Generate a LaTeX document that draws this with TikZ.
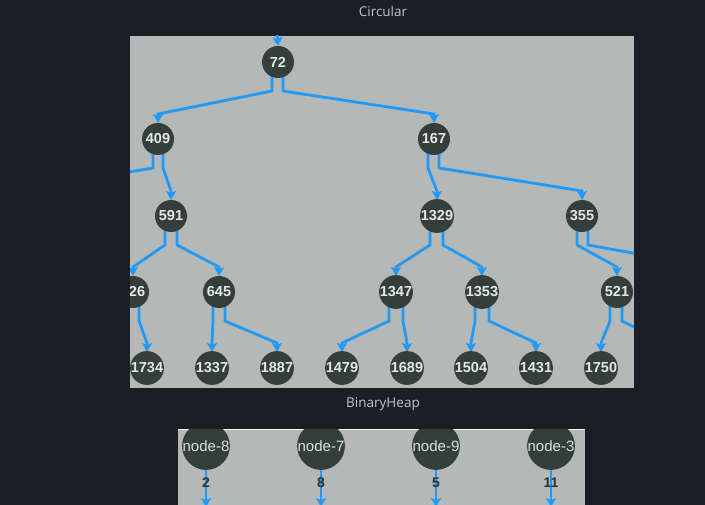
\documentclass[tikz,border=0pt]{standalone}
\usepackage{fontspec}
\setmainfont{Liberation Sans}
\newfontfamily\titlefont{Open Sans}
\usetikzlibrary{calc,arrows.meta}
\definecolor{bgdark}{HTML}{1B1E25}
\definecolor{panelgray}{HTML}{B4B9B8}
\definecolor{nodefill}{HTML}{343F3C}
\definecolor{edgeblue}{HTML}{2299F5}
\definecolor{nodetext}{HTML}{E4E8E8}
\definecolor{titlegray}{HTML}{C3C7CC}
\definecolor{labeldark}{HTML}{2A3034}
\tikzset{
  x=1pt, y=-1pt,
  tnode/.style={circle, fill=nodefill, minimum size=32pt, inner sep=0pt,
    text=nodetext, font=\bfseries\fontsize{14.5}{14.5}\selectfont},
  hnode/.style={circle, fill=nodefill, minimum size=32pt, inner sep=0pt,
    text=nodetext!80!panelgray, font=\fontsize{15}{15}\selectfont},
  edgeline/.style={draw=edgeblue, line width=2.8pt,
    -{Stealth[length=9pt,width=10pt,inset=2pt]}},
  ttl/.style={text=titlegray, font=\titlefont\fontsize{13.5}{13.5}\selectfont},
  elabel/.style={text=labeldark, font=\bfseries\fontsize{14}{14}\selectfont}
}
\newcommand{\tedge}[3]{%
  \draw[edgeline] ($(#1.center)+(#3,14)$) -- ($(#1.center)+(#3,29)$)
    -- ($(#2.center)+(0,-25)$) -- ($(#2.center)+(0,-16)$);}
\begin{document}
\begin{tikzpicture}
\useasboundingbox (0,0) rectangle (705,505);
\fill[bgdark] (0,0) rectangle (705,505);
\node[ttl] (t1) at (383,11) {Circular};
\node[ttl] (t2) at (383,404) {BinaryHeap};
% top panel
\begin{scope}
\clip (130,36) rectangle (634,388);
\fill[panelgray] (130,36) rectangle (634,388);
\coordinate (n72) at (278,62);
\coordinate (n409) at (158,139);
\coordinate (n167) at (434,139);
\coordinate (n591) at (171,216);
\coordinate (n1329) at (437,216);
\coordinate (n355) at (582,216);
\coordinate (n226) at (133,292);
\coordinate (n645) at (219,292);
\coordinate (n1347) at (396,292);
\coordinate (n1353) at (482,292);
\coordinate (n521) at (617,292);
\coordinate (n1734) at (147,368);
\coordinate (n1337) at (212,368);
\coordinate (n1887) at (277,368);
\coordinate (n1479) at (342,368);
\coordinate (n1689) at (407,368);
\coordinate (n1504) at (471,368);
\coordinate (n1431) at (536,368);
\coordinate (n1750) at (601,368);
\coordinate (offA) at (15,216);
\coordinate (offB) at (711,292);
\coordinate (offC) at (666,368);
\coordinate (topin) at (277,30);
% edges
\draw[edgeline] (topin) -- ($(n72)+(0,-16)$);
\tedge{n72}{n409}{-6}
\tedge{n72}{n167}{5}
\tedge{n409}{offA}{-5}
\tedge{n409}{n591}{5}
\tedge{n167}{n1329}{-6}
\tedge{n167}{n355}{5}
\tedge{n591}{n226}{-6}
\tedge{n591}{n645}{6}
\tedge{n1329}{n1347}{-7}
\tedge{n1329}{n1353}{6}
\tedge{n355}{n521}{-5}
\tedge{n355}{offB}{6}
\tedge{n226}{n1734}{6}
\tedge{n645}{n1337}{-6}
\tedge{n645}{n1887}{6}
\tedge{n1347}{n1479}{-7}
\tedge{n1347}{n1689}{7}
\tedge{n1353}{n1504}{-7}
\tedge{n1353}{n1431}{7}
\tedge{n521}{n1750}{-7}
\tedge{n521}{offC}{5}
% nodes
\node[tnode] (a72) at (n72) {72};
\node[tnode] (a409) at (n409) {409};
\node[tnode] (a167) at (n167) {167};
\node[tnode] (a591) at (n591) {591};
\node[tnode] (a1329) at (n1329) {1329};
\node[tnode] (a355) at (n355) {355};
\node[tnode] (a226) at (n226) {226};
\node[tnode] (a645) at (n645) {645};
\node[tnode] (a1347) at (n1347) {1347};
\node[tnode] (a1353) at (n1353) {1353};
\node[tnode] (a521) at (n521) {521};
\node[tnode] (a1734) at (n1734) {1734};
\node[tnode] (a1337) at (n1337) {1337};
\node[tnode] (a1887) at (n1887) {1887};
\node[tnode] (a1479) at (n1479) {1479};
\node[tnode] (a1689) at (n1689) {1689};
\node[tnode] (a1504) at (n1504) {1504};
\node[tnode] (a1431) at (n1431) {1431};
\node[tnode] (a1750) at (n1750) {1750};
\end{scope}
% bottom panel
\begin{scope}
\clip (178,429) rectangle (585,505);
\fill[panelgray] (178,429) rectangle (585,505);
\draw[white!85!panelgray, line width=1pt] (178,429.5) -- (585,429.5);
\coordinate (h8) at (206,446);
\coordinate (h7) at (321,446);
\coordinate (h9) at (436,446);
\coordinate (h3) at (551,446);
\coordinate (e8) at (206,507);
\coordinate (e7) at (321,507);
\coordinate (e9) at (436,507);
\coordinate (e3) at (551,507);
\draw[edgeline] ($(h8)+(0,15)$) -- (e8);
\draw[edgeline] ($(h7)+(0,15)$) -- (e7);
\draw[edgeline] ($(h9)+(0,15)$) -- (e9);
\draw[edgeline] ($(h3)+(0,15)$) -- (e3);
\node[hnode] (b8) at (h8) {node-8};
\node[hnode] (b7) at (h7) {node-7};
\node[hnode] (b9) at (h9) {node-9};
\node[hnode] (b3) at (h3) {node-3};
\node[elabel] (l8) at (206,483) {2};
\node[elabel] (l7) at (321,483) {8};
\node[elabel] (l9) at (436,483) {5};
\node[elabel] (l3) at (551,483) {11};
\end{scope}
\end{tikzpicture}
\end{document}
